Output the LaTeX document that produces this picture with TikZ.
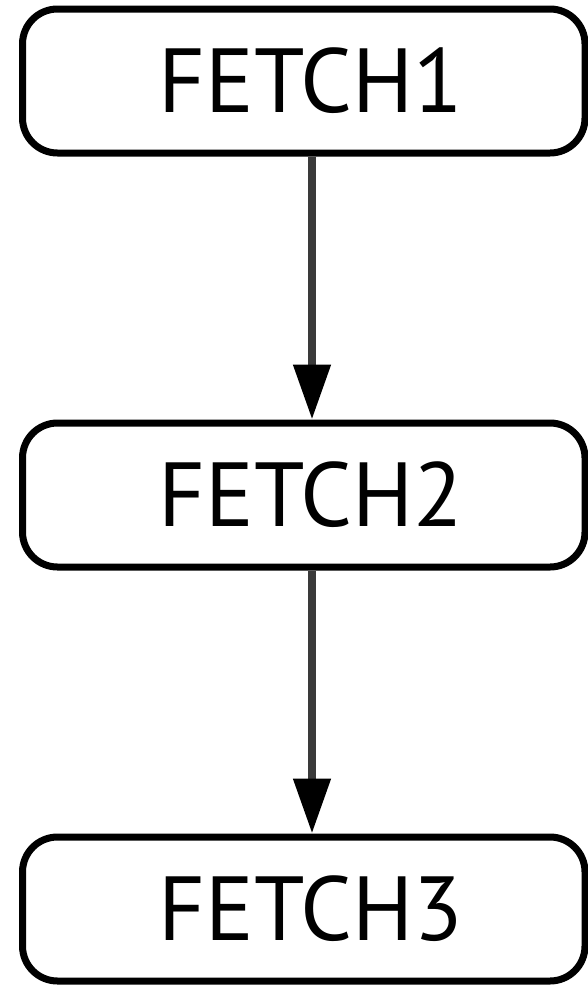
\documentclass[tikz,border=0pt]{standalone}
\usepackage{fontspec}
\setmainfont{PT Sans}
\usetikzlibrary{arrows.meta}
\definecolor{linkgray}{HTML}{3A3A3A}
\begin{document}
\begin{tikzpicture}[x=1pt,y=-1pt,
  stagebox/.style={draw=black, line width=7pt, rounded corners=35pt,
    minimum width=562.5pt, minimum height=144pt, inner sep=0pt,
    font=\fontsize{91}{100}\selectfont},
  flow/.style={draw=linkgray, line width=8pt,
    -{Triangle[length=55pt,width=36pt,color=black]}}]
  \useasboundingbox (0,0) rectangle (588,986);
  \node[stagebox] (b1) at (303.75,81)  {\hspace*{14pt}FETCH1};
  \node[stagebox] (b2) at (303.75,495) {\hspace*{14pt}FETCH2};
  \node[stagebox] (b3) at (303.75,909) {\hspace*{14pt}FETCH3};
  \draw[flow] ([xshift=8.25pt]b1.south) -- ([xshift=8.25pt]b2.north);
  \draw[flow] ([xshift=8.25pt]b2.south) -- ([xshift=8.25pt]b3.north);
\end{tikzpicture}
\end{document}
